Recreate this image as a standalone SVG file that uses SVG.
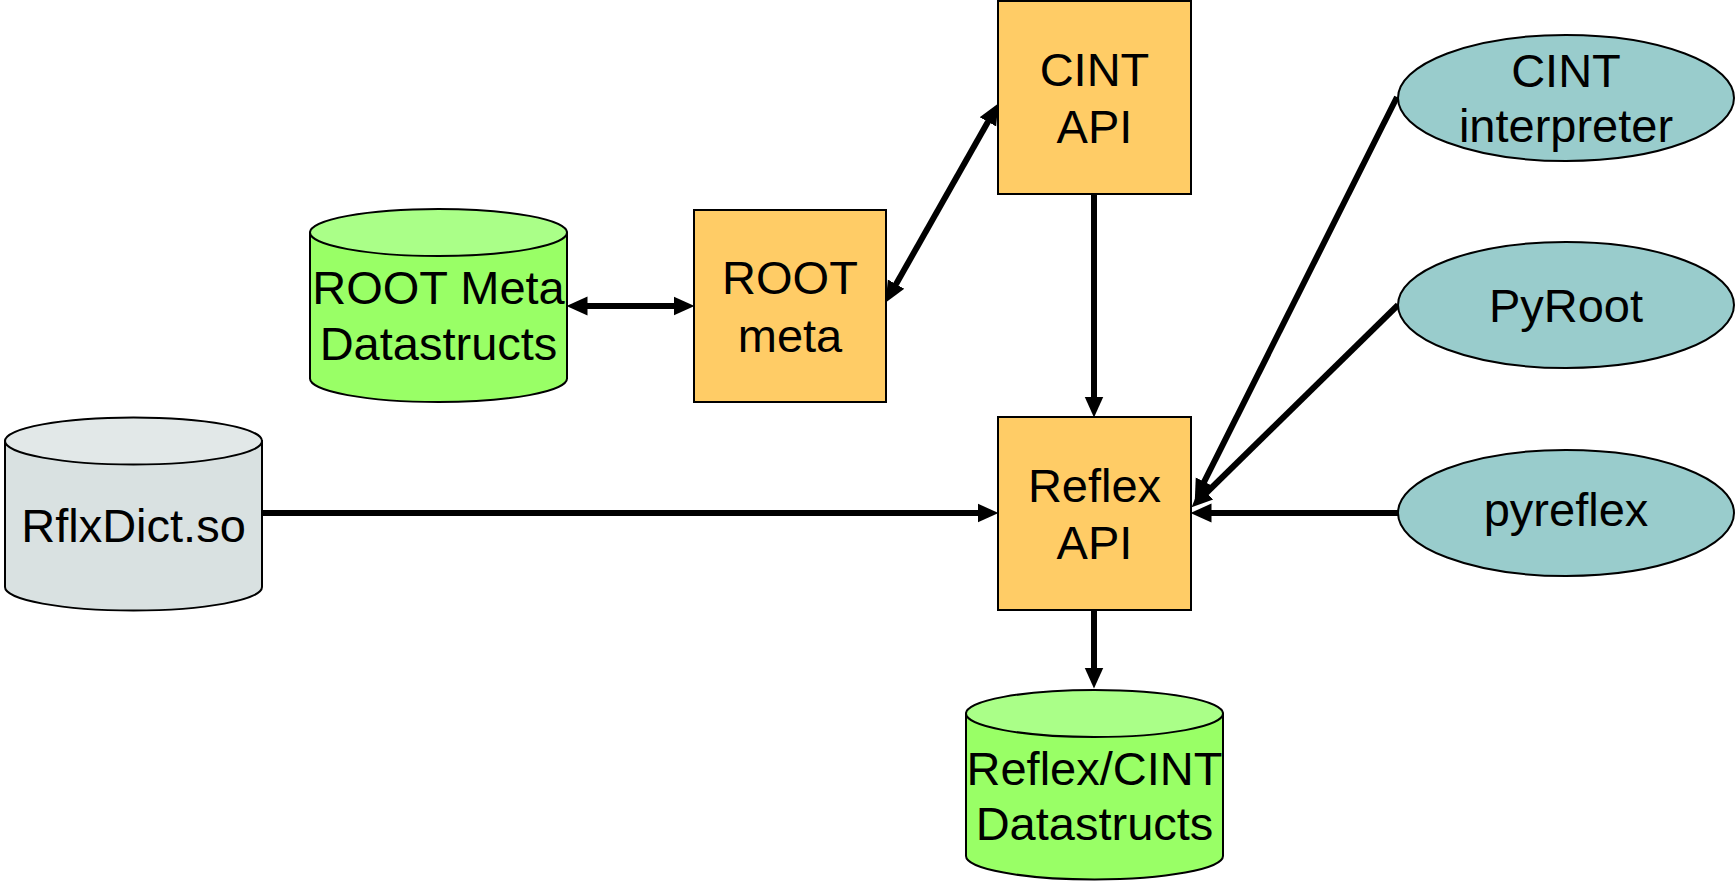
<svg xmlns="http://www.w3.org/2000/svg" width="1735" height="882" viewBox="0 0 1735 882">
<style>
  .box { fill: #FFCC66; stroke: #000; stroke-width: 2; }
  .cylG { fill: #99FF66; stroke: #000; stroke-width: 2; }
  .cylGt { fill: #AAFF88; stroke: #000; stroke-width: 2; }
  .cylS { fill: #D9E1E1; stroke: #000; stroke-width: 2; }
  .cylSt { fill: #E2E8E8; stroke: #000; stroke-width: 2; }
  .ell { fill: #99CCCC; stroke: #000; stroke-width: 2; }
  .lbl { font-family: "Liberation Sans", Arial, sans-serif; font-size: 47px; fill: #000; text-anchor: middle; }
  .conn { stroke: #000; stroke-width: 6; fill: none; }
</style>
<defs>
  <marker id="ah" viewBox="0 0 10 10" refX="5" refY="5" markerWidth="3.5" markerHeight="3.5" orient="auto-start-reverse" markerUnits="strokeWidth">
    <path d="M0,0.5 L10,5 L0,9.5 Z" fill="#000"/>
  </marker>
</defs>
<rect width="1735" height="882" fill="#fff"/>

<g id="connectors">
  <line class="conn" x1="577" y1="306" x2="684" y2="306" marker-start="url(#ah)" marker-end="url(#ah)"/>
  <line class="conn" x1="890.9" y1="293.3" x2="993.1" y2="112.7" marker-start="url(#ah)" marker-end="url(#ah)"/>
  <line class="conn" x1="1094" y1="194" x2="1094" y2="407" marker-end="url(#ah)"/>
  <line class="conn" x1="262" y1="513" x2="988" y2="513" marker-end="url(#ah)"/>
  <line class="conn" x1="1398" y1="513" x2="1201" y2="513" marker-end="url(#ah)"/>
  <line class="conn" x1="1398" y1="305" x2="1199.1" y2="500" marker-end="url(#ah)"/>
  <line class="conn" x1="1397" y1="97" x2="1199.5" y2="491.1" marker-end="url(#ah)"/>
  <line class="conn" x1="1094" y1="610" x2="1094" y2="678" marker-end="url(#ah)"/>
</g>

<g id="cint-api">
  <rect class="box" x="998" y="1" width="193" height="193"/>
  <text class="lbl" x="1094.5" y="86">CINT</text>
  <text class="lbl" x="1094.5" y="143">API</text>
</g>

<g id="root-meta">
  <rect class="box" x="694" y="210" width="192" height="192"/>
  <text class="lbl" x="790" y="294">ROOT</text>
  <text class="lbl" x="790" y="352">meta</text>
</g>

<g id="reflex-api">
  <rect class="box" x="998" y="417" width="193" height="193"/>
  <text class="lbl" x="1094.5" y="502">Reflex</text>
  <text class="lbl" x="1094.5" y="559">API</text>
</g>

<g id="root-meta-datastructs">
  <path class="cylG" d="M310,232.5 V378.5 A128.5,23.5 0 0 0 567,378.5 V232.5 Z"/>
  <ellipse class="cylGt" cx="438.5" cy="232.5" rx="128.5" ry="23.5"/>
  <text class="lbl" x="438.5" y="304">ROOT Meta</text>
  <text class="lbl" x="438.5" y="360">Datastructs</text>
</g>

<g id="rflxdict">
  <path class="cylS" d="M5,441 V587 A128.5,23.5 0 0 0 262,587 V441 Z"/>
  <ellipse class="cylSt" cx="133.5" cy="441" rx="128.5" ry="23.5"/>
  <text class="lbl" x="133.5" y="542">RflxDict.so</text>
</g>

<g id="reflex-cint-datastructs">
  <path class="cylG" d="M966,713.5 V856 A128.5,23.5 0 0 0 1223,856 V713.5 Z"/>
  <ellipse class="cylGt" cx="1094.5" cy="713.5" rx="128.5" ry="23.5"/>
  <text class="lbl" x="1094.5" y="785">Reflex/CINT</text>
  <text class="lbl" x="1094.5" y="840">Datastructs</text>
</g>

<g id="cint-interpreter">
  <ellipse class="ell" cx="1566" cy="98" rx="168" ry="63"/>
  <text class="lbl" x="1566" y="87">CINT</text>
  <text class="lbl" x="1566" y="142">interpreter</text>
</g>

<g id="pyroot">
  <ellipse class="ell" cx="1566" cy="305" rx="168" ry="63"/>
  <text class="lbl" x="1566" y="322">PyRoot</text>
</g>

<g id="pyreflex">
  <ellipse class="ell" cx="1566" cy="513" rx="168" ry="63"/>
  <text class="lbl" x="1566" y="526">pyreflex</text>
</g>
</svg>
